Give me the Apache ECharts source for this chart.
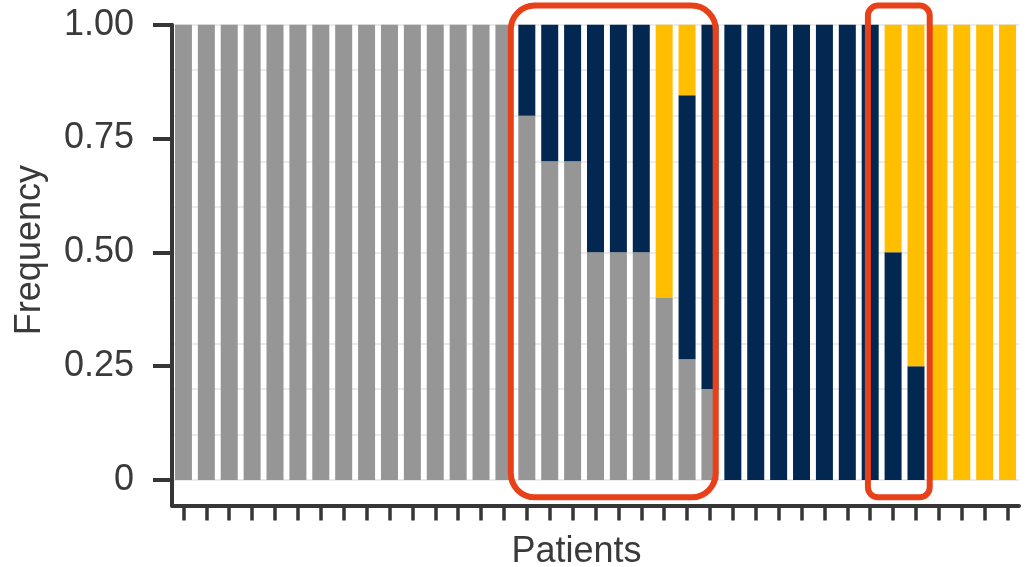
<!DOCTYPE html>
<html>
<head>
<meta charset="utf-8">
<title>Frequency by patient</title>
<script src="https://cdn.jsdelivr.net/npm/echarts@6/dist/echarts.min.js"></script>
<style>
  html, body { margin: 0; padding: 0; background: #ffffff; }
  #chart { width: 1030px; height: 567px; }
</style>
</head>
<body>
<div id="chart"></div>
<script>
// One stacked bar per patient; the three groups add up to 1 for each patient.
const patients = Array.from({ length: 37 }, (_, i) => 'P' + (i + 1));

const groupGray = [
  1, 1, 1, 1, 1, 1, 1, 1, 1, 1, 1, 1, 1, 1, 1,
  0.8, 0.7, 0.7, 0.5, 0.5, 0.5, 0.4, 0.265, 0.2,
  0, 0, 0, 0, 0, 0, 0,
  0, 0,
  0, 0, 0, 0
];
const groupBlue = [
  0, 0, 0, 0, 0, 0, 0, 0, 0, 0, 0, 0, 0, 0, 0,
  0.2, 0.3, 0.3, 0.5, 0.5, 0.5, 0, 0.58, 0.8,
  1, 1, 1, 1, 1, 1, 1,
  0.5, 0.25,
  0, 0, 0, 0
];
const groupGold = [
  0, 0, 0, 0, 0, 0, 0, 0, 0, 0, 0, 0, 0, 0, 0,
  0, 0, 0, 0, 0, 0, 0.6, 0.155, 0,
  0, 0, 0, 0, 0, 0, 0,
  0.5, 0.75,
  1, 1, 1, 1
];

const yTickValues = [0, 0.25, 0.5, 0.75, 1];
const yTickLabels = ['0', '0.25', '0.50', '0.75', '1.00'];
const gridValues = [0, 0.1, 0.2, 0.3, 0.4, 0.5, 0.6, 0.7, 0.8, 0.9, 1];

// Highlighted patient groups, given in category units (left edge, right edge)
const highlightSpans = [
  { from: 14.3, to: 23.25, radius: 24 },
  { from: 29.9, to: 32.6, radius: 10 }
];

const FONT = '"Liberation Sans", Arial, sans-serif';
const AXIS_COLOR = '#363636';
const TEXT_COLOR = '#3a3a3a';
const Y_MIN = -0.056;
const Y_MAX = 1;

const chart = echarts.init(document.getElementById('chart'), null, { renderer: 'canvas' });

function barSeries(name, data, color) {
  return {
    name: name,
    type: 'bar',
    stack: 'total',
    data: data,
    barWidth: 17,
    itemStyle: { color: color },
    emphasis: { disabled: true },
    z: 3
  };
}

chart.setOption({
  animation: false,
  backgroundColor: '#ffffff',
  grid: {
    left: 172, right: 11, top: 24.7, bottom: 61.5,
    containLabel: false,
    outerBoundsMode: 'none'
  },
  xAxis: {
    type: 'category',
    data: patients,
    boundaryGap: true,
    name: 'Patients',
    nameLocation: 'middle',
    nameGap: 29,
    nameTextStyle: { fontFamily: FONT, fontSize: 36, color: TEXT_COLOR, padding: [0, 38, 0, 0] },
    axisLine: { show: true, onZero: false, lineStyle: { color: AXIS_COLOR, width: 4 } },
    axisTick: { show: true, interval: 0, alignWithLabel: true, length: 15, lineStyle: { color: AXIS_COLOR, width: 3.5 } },
    axisLabel: { show: false, interval: 0 },
    splitLine: { show: false }
  },
  yAxis: [
    {
      type: 'value',
      min: Y_MIN,
      max: Y_MAX,
      name: 'Frequency',
      nameLocation: 'middle',
      nameRotate: 90,
      nameGap: 124,
      nameTextStyle: { fontFamily: FONT, fontSize: 36, color: TEXT_COLOR, padding: [0, 0, 0, 30] },
      axisLine: { show: true, onZero: false, lineStyle: { color: AXIS_COLOR, width: 4 } },
      axisTick: { show: true, length: 19, customValues: yTickValues, lineStyle: { color: AXIS_COLOR, width: 4 } },
      axisLabel: {
        show: true,
        customValues: yTickValues,
        margin: 38,
        fontFamily: FONT,
        fontSize: 36,
        color: TEXT_COLOR,
        formatter: function (v) {
          const i = yTickValues.findIndex(t => Math.abs(t - v) < 1e-9);
          return i >= 0 ? yTickLabels[i] : '';
        }
      },
      splitLine: { show: false }
    },
    {
      // Background grid lines only
      type: 'value',
      min: Y_MIN,
      max: Y_MAX,
      position: 'left',
      axisLine: { show: false },
      axisTick: { show: false, customValues: gridValues },
      axisLabel: { show: false, customValues: gridValues },
      splitLine: { show: true, lineStyle: { color: '#e4e4e4', width: 1.5 } }
    }
  ],
  series: [
    barSeries('Group A', groupGray, '#969696'),
    barSeries('Group B', groupBlue, '#022851'),
    barSeries('Group C', groupGold, '#FFBF00')
  ]
});

// Rounded outlines around the highlighted patient groups
function drawHighlights() {
  const x0 = chart.convertToPixel({ xAxisIndex: 0 }, 0);
  const x1 = chart.convertToPixel({ xAxisIndex: 0 }, 1);
  const band = x1 - x0;
  const yTop = chart.convertToPixel({ yAxisIndex: 0 }, 1.042);
  const yBottom = chart.convertToPixel({ yAxisIndex: 0 }, -0.038);
  const elements = highlightSpans.map(function (s, i) {
    const left = x0 + s.from * band;
    const right = x0 + s.to * band;
    return {
      type: 'rect',
      id: 'highlight' + i,
      z: 100,
      silent: true,
      shape: { x: left, y: yTop, width: right - left, height: yBottom - yTop, r: s.radius },
      style: { fill: null, stroke: '#E8411A', lineWidth: 6 }
    };
  });
  chart.setOption({ graphic: { elements: elements } });
}
drawHighlights();
</script>
</body>
</html>
